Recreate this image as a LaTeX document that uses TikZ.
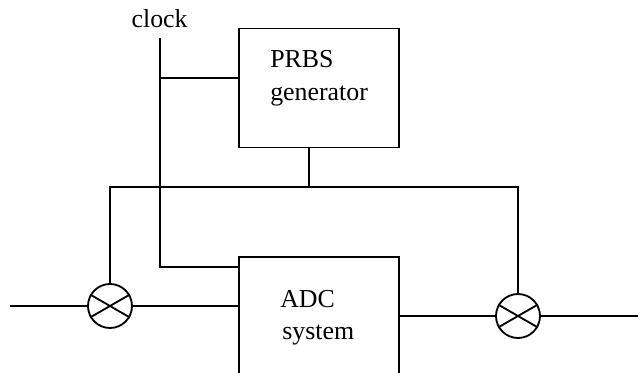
\documentclass[tikz,border=0pt]{standalone}
\usepackage{fontspec}
\setmainfont{Liberation Serif}
\tikzset{
    block/.style={draw, line width=1.4pt, inner sep=0pt},
    mixer/.style={draw, circle, line width=1.3pt, minimum size=1.1cm, inner sep=0pt},
    wire/.style={line width=1.3pt},
    lbl/.style={inner sep=0pt, font=\fontsize{18.4}{22}\selectfont}
}
\begin{document}
\begin{tikzpicture}
        \useasboundingbox (0,0) rectangle (16.075,-9.325);

        \node[block, minimum width=4cm, minimum height=2.975cm] (prbs) at (7.975,-2.2) {};
        \node[block, minimum width=4cm, minimum height=4cm] (adc) at (7.975,-8.425) {};
        \node[mixer] (mixl) at (2.75,-7.65) {};
        \node[mixer] (mixr) at (12.95,-7.9) {};

        \coordinate (clk) at (4,-0.95);
        \coordinate (clkp) at (4,-1.95);
        \coordinate (clka) at (4,-6.675);
        \coordinate (stub) at (7.725,-4.675);
        \coordinate (busl) at (2.75,-4.675);
        \coordinate (busr) at (12.95,-4.675);
        \coordinate (inl) at (0.25,-7.65);
        \coordinate (outr) at (15.95,-7.9);

        \node[lbl, anchor=base] (clocklbl) at (3.99,-0.675) {clock};
        \node[lbl, anchor=base west] (prbsa) at (6.75,-1.7) {PRBS};
        \node[lbl, anchor=base west] (prbsb) at (6.75,-2.5) {generator};
        \node[lbl, anchor=base west] (adca) at (7,-7.675) {ADC};
        \node[lbl, anchor=base west] (adcb) at (7.05,-8.475) {system};

        % clock lines
        \draw[wire] (clk) -- (clkp) -- (clka) -- (clka -| adc.west);
        \draw[wire] (clkp) -- (clkp -| prbs.west);

        % prbs bus
        \draw[wire] (prbs.south -| stub) -- (stub);
        \draw[wire] (mixl.north) -- (busl) -- (busr) -- (mixr.north);

        % signal path
        \draw[wire] (inl) -- (mixl.west);
        \draw[wire] (mixl.east) -- (mixl.east -| adc.west);
        \draw[wire] (mixr.west -| adc.east) -- (mixr.west);
        \draw[wire] (mixr.east) -- (outr);

        % crosses
        \foreach \m in {mixl,mixr} {
            \draw[wire] (\m.150) -- (\m.330);
            \draw[wire] (\m.30) -- (\m.210);
        }
\end{tikzpicture}
\end{document}
